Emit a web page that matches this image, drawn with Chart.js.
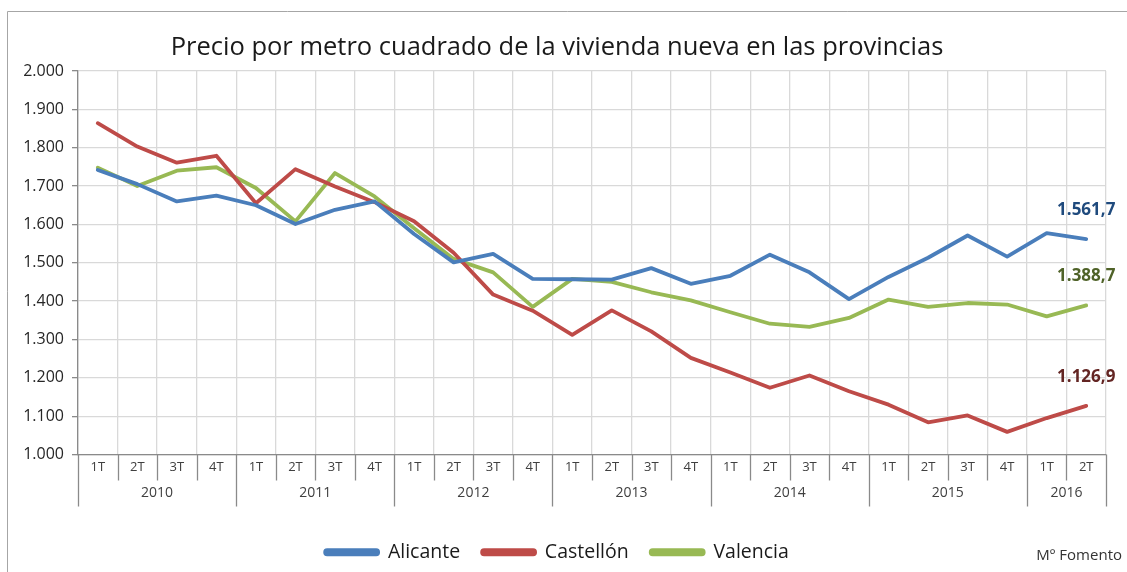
<!DOCTYPE html>
<html>
<head>
<meta charset="utf-8">
<script src="https://cdn.jsdelivr.net/npm/chart.js@4.4.1/dist/chart.umd.min.js"></script>
<style>
  html, body { margin: 0; padding: 0; background: #fff; }
  #wrap { width: 1127px; height: 572px; }
</style>
</head>
<body>
<div id="wrap"><canvas id="chart" width="1127" height="572"></canvas></div>
<script>
// quarters 2010 1T .. 2016 2T
const quarterLabels = [
  '1T','2T','3T','4T', '1T','2T','3T','4T', '1T','2T','3T','4T',
  '1T','2T','3T','4T', '1T','2T','3T','4T', '1T','2T','3T','4T',
  '1T','2T'
];
const yearLabels = ['2010', '2011', '2012', '2013', '2014', '2015', '2016'];
const quartersPerYear = [4, 4, 4, 4, 4, 4, 2];

const alicante = [
  1742, 1705, 1660, 1675, 1650, 1601, 1638, 1660,
  1575, 1501, 1523, 1458, 1457, 1456, 1486, 1445,
  1466, 1521, 1475, 1405, 1463, 1513, 1571, 1516,
  1577, 1561.7
];
const castellon = [
  1864, 1803, 1761, 1779, 1655, 1744, 1699, 1658,
  1608, 1526, 1417, 1375, 1312, 1376, 1321, 1252,
  1214, 1174, 1206, 1165, 1130, 1084, 1102, 1059,
  1095, 1126.9
];
const valencia = [
  1748, 1700, 1740, 1749, 1695, 1608, 1734, 1673,
  1590, 1510, 1475, 1385, 1458, 1450, 1423, 1402,
  1371, 1341, 1333, 1356, 1404, 1385, 1395, 1391,
  1360, 1388.7
];

const yTicks = { min: 1000, max: 2000, step: 100 };

const FONT = "'Open Sans', 'DejaVu Sans', sans-serif";

function thousands(v) {
  return String(Math.trunc(v)).replace(/\B(?=(\d{3})+(?!\d))/g, '.');
}
function esNumber(v) {
  const parts = v.toFixed(1).split('.');
  return thousands(Number(parts[0])) + ',' + parts[1];
}

// year row, tick separators, end labels and frame
const extrasPlugin = {
  id: 'extras',
  afterDraw(chart) {
    const ctx = chart.ctx;
    const x = chart.scales.x;
    const bottom = chart.chartArea.bottom;
    const step = x.getPixelForValue(1) - x.getPixelForValue(0);

    // separators below the axis
    const yearStarts = [0];
    quartersPerYear.forEach((n, i) => yearStarts.push(yearStarts[i] + n));
    ctx.save();
    ctx.strokeStyle = '#8a8a8a';
    ctx.lineWidth = 1.3;
    for (let i = 0; i <= quarterLabels.length; i++) {
      const bx = Math.round(x.getPixelForValue(i) - step / 2) + 0.5;
      const len = yearStarts.includes(i) ? 52 : 26;
      ctx.beginPath();
      ctx.moveTo(bx, bottom);
      ctx.lineTo(bx, bottom + len);
      ctx.stroke();
    }

    // year labels
    ctx.fillStyle = '#404040';
    ctx.font = '14px ' + FONT;
    ctx.textAlign = 'center';
    ctx.textBaseline = 'middle';
    yearLabels.forEach((yr, i) => {
      const a = x.getPixelForValue(yearStarts[i]) - step / 2;
      const b = x.getPixelForValue(yearStarts[i + 1] - 1) + step / 2;
      ctx.fillText(yr, (a + b) / 2, bottom + 39);
    });

    // value labels at the last point
    const endColors = ['#1f4a7d', '#632523', '#4f6228'];
    ctx.font = 'bold 17px ' + FONT;
    chart.data.datasets.forEach((ds, i) => {
      const meta = chart.getDatasetMeta(i);
      const pt = meta.data[meta.data.length - 1];
      ctx.fillStyle = endColors[i];
      ctx.fillText(esNumber(ds.data[ds.data.length - 1]), pt.x, pt.y - 29);
    });

    // source note
    ctx.font = '15px ' + FONT;
    ctx.fillStyle = '#333';
    ctx.textAlign = 'right';
    ctx.fillText('Mº Fomento', 1122, 556);

    // outer frame
    ctx.strokeStyle = '#a6a6a6';
    ctx.lineWidth = 1;
    ctx.beginPath();
    ctx.moveTo(7.5, 572);
    ctx.lineTo(7.5, 11.5);
    ctx.lineTo(1127, 11.5);
    ctx.stroke();
    ctx.restore();
  }
};

const ctx = document.getElementById('chart').getContext('2d');
new Chart(ctx, {
  type: 'line',
  data: {
    labels: quarterLabels,
    datasets: [
      { label: 'Alicante', data: alicante, borderColor: '#4a7ebb', backgroundColor: '#4a7ebb' },
      { label: 'Castellón', data: castellon, borderColor: '#be4b48', backgroundColor: '#be4b48' },
      { label: 'Valencia', data: valencia, borderColor: '#98b954', backgroundColor: '#98b954' }
    ]
  },
  options: {
    responsive: false,
    animation: false,
    elements: {
      line: { borderWidth: 3.8, tension: 0, borderCapStyle: 'round', borderJoinStyle: 'round' },
      point: { radius: 0 }
    },
    layout: { padding: { left: 8, right: 21, top: 0, bottom: 0 } },
    plugins: {
      title: {
        display: true,
        text: 'Precio por metro cuadrado de la vivienda nueva en las provincias',
        color: '#1a1a1a',
        font: { family: FONT, size: 25.5, weight: 'normal', lineHeight: 1.2 },
        padding: { top: 32, bottom: 8.4 }
      },
      legend: {
        position: 'bottom',
        labels: {
          color: '#1a1a1a',
          font: { family: FONT, size: 19.5 },
          boxWidth: 53,
          boxHeight: 4,
          padding: 22,
          useBorderRadius: true,
          borderRadius: 2
        }
      },
      tooltip: { enabled: false }
    },
    scales: {
      x: {
        offset: true,
        grid: { offset: true, color: '#d9d9d9', lineWidth: 1.3, drawTicks: false },
        border: { color: '#8a8a8a', width: 1.3 },
        ticks: { color: '#404040', font: { family: FONT, size: 13 }, padding: 5, maxRotation: 0, autoSkip: false },
        afterFit(scale) { scale.height = 66; }
      },
      y: {
        min: yTicks.min,
        max: yTicks.max,
        grid: { color: '#d9d9d9', lineWidth: 1.3, tickLength: 6, tickColor: '#8a8a8a' },
        border: { color: '#8a8a8a', width: 1.3 },
        ticks: {
          stepSize: yTicks.step,
          color: '#262626',
          font: { family: FONT, size: 16 },
          padding: 8,
          callback: v => thousands(v)
        },
        afterFit(scale) { scale.width = 70; }
      }
    }
  },
  plugins: [extrasPlugin]
});
</script>
</body>
</html>
